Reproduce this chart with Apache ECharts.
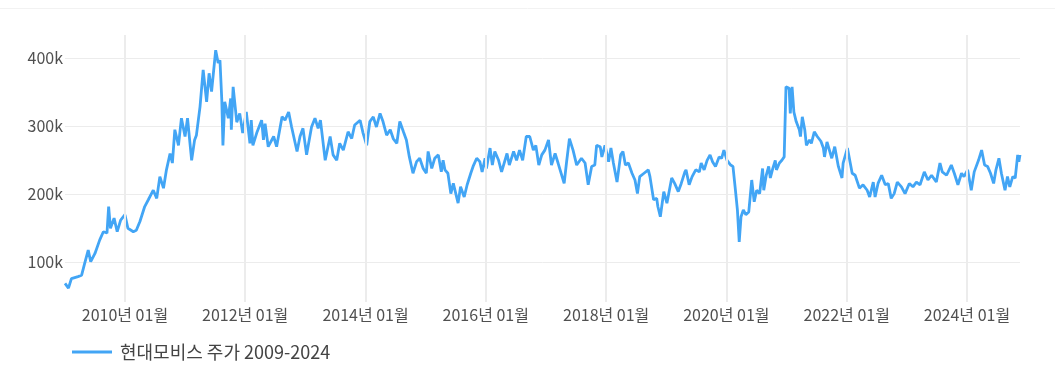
<!DOCTYPE html>
<html><head><meta charset="utf-8">
<script src="https://cdn.jsdelivr.net/npm/echarts@6/dist/echarts.min.js"></script>
<style>html,body{margin:0;padding:0;background:#fff;}#c{width:1055px;height:383px;}</style>
</head><body><div id="c"></div>
<script>
const seriesName = '현대모비스 주가 2009-2024';
const tickDates = ['2010-01-01','2012-01-01','2014-01-01','2016-01-01','2018-01-01','2020-01-01','2022-01-01','2024-01-01'];
const yTicks = [100000, 200000, 300000, 400000];
const dates = [
'2009-01-02','2009-01-23','2009-02-10','2009-03-22','2009-04-13','2009-05-01','2009-05-23','2009-06-07','2009-07-03','2009-08-01','2009-08-23','2009-09-14','2009-09-24','2009-10-05','2009-10-27','2009-11-15','2009-12-06',
'2010-01-01','2010-01-19','2010-02-21','2010-03-11','2010-04-02','2010-05-01','2010-05-23','2010-06-22','2010-07-13','2010-08-01','2010-08-23','2010-09-10','2010-10-02','2010-10-16','2010-10-31','2010-11-22','2010-12-10',
'2011-01-01','2011-01-16','2011-02-10','2011-02-28','2011-03-11','2011-04-02','2011-04-21','2011-05-12','2011-05-27','2011-06-11','2011-06-22','2011-07-06','2011-07-21','2011-08-01','2011-08-12','2011-08-19','2011-08-30','2011-09-21','2011-10-05','2011-10-09','2011-10-20','2011-11-11','2011-11-29','2011-12-17',
'2012-01-08','2012-01-30','2012-02-07','2012-02-17','2012-03-11','2012-04-10','2012-04-21','2012-05-01','2012-05-20','2012-06-22','2012-07-10','2012-08-12','2012-08-30','2012-09-21','2012-10-09','2012-11-11','2012-11-29','2012-12-17',
'2013-01-08','2013-02-07','2013-02-28','2013-03-19','2013-04-02','2013-05-01','2013-05-31','2013-06-18','2013-07-10','2013-07-28','2013-08-19','2013-09-17','2013-10-09','2013-10-27','2013-11-29','2013-12-17',
'2014-01-08','2014-01-27','2014-02-17','2014-03-08','2014-03-30','2014-04-17','2014-05-09','2014-05-31','2014-06-18','2014-07-10','2014-07-28','2014-08-19','2014-09-06','2014-09-24','2014-10-16','2014-11-07','2014-11-26','2014-12-17',
'2015-01-05','2015-01-16','2015-02-07','2015-02-25','2015-03-19','2015-04-06','2015-04-17','2015-04-28','2015-05-16','2015-06-03','2015-06-18','2015-07-03','2015-07-17','2015-08-01','2015-08-23','2015-09-10','2015-10-02','2015-10-16','2015-11-07','2015-11-26','2015-12-10','2015-12-28',
'2016-01-05','2016-01-27','2016-02-10','2016-02-25','2016-03-19','2016-04-06','2016-05-09','2016-05-23','2016-06-18','2016-07-06','2016-07-24','2016-08-12','2016-09-03','2016-09-24','2016-10-16','2016-10-31','2016-11-18','2016-12-06','2016-12-25',
'2017-01-16','2017-02-03','2017-02-25','2017-03-15','2017-04-21','2017-05-05','2017-05-23','2017-06-14','2017-07-06','2017-08-04','2017-08-26','2017-09-14','2017-10-05','2017-10-24','2017-11-04','2017-11-26','2017-12-06','2017-12-25',
'2018-01-16','2018-01-30','2018-02-14','2018-03-08','2018-03-30','2018-04-13','2018-04-28','2018-05-16','2018-06-07','2018-06-25','2018-07-10','2018-07-24','2018-08-19','2018-09-14','2018-09-24','2018-10-05','2018-10-16','2018-11-04','2018-11-11','2018-11-26','2018-12-17',
'2019-01-05','2019-02-03','2019-02-21','2019-03-15','2019-04-02','2019-04-24','2019-05-01','2019-05-20','2019-06-07','2019-06-29','2019-07-21','2019-08-01','2019-08-19','2019-09-06','2019-09-24','2019-10-09','2019-10-27','2019-11-18','2019-12-03','2019-12-17',
'2020-01-05','2020-01-27','2020-02-10','2020-02-25','2020-03-08','2020-03-19','2020-03-30','2020-04-13','2020-04-28','2020-05-16','2020-06-03','2020-06-18','2020-07-03','2020-07-21','2020-08-08','2020-08-15','2020-08-30','2020-09-14','2020-09-24','2020-10-09','2020-10-24','2020-10-31','2020-11-18','2020-12-03','2020-12-17','2020-12-28',
'2021-01-16','2021-01-23','2021-02-03','2021-02-14','2021-02-28','2021-03-19','2021-03-26','2021-04-06','2021-04-21','2021-05-01','2021-05-20','2021-05-31','2021-06-18','2021-07-06','2021-07-28','2021-08-12','2021-08-19','2021-09-03','2021-10-02','2021-10-20','2021-11-11','2021-12-03','2021-12-10',
'2022-01-05','2022-02-03','2022-02-21','2022-03-19','2022-04-10','2022-05-05','2022-05-20','2022-06-11','2022-06-22','2022-07-10','2022-08-01','2022-08-23','2022-09-10','2022-09-28','2022-10-16','2022-11-04','2022-11-29','2022-12-21',
'2023-01-16','2023-02-07','2023-02-28','2023-03-22','2023-04-17','2023-05-09','2023-05-31','2023-06-29','2023-07-21','2023-08-04','2023-08-30','2023-09-28','2023-10-16','2023-11-07','2023-11-29','2023-12-14',
'2024-01-05','2024-01-27','2024-02-14','2024-03-11','2024-03-30','2024-04-17','2024-05-05','2024-05-23','2024-06-11','2024-06-25','2024-07-13','2024-07-28','2024-08-19','2024-09-03','2024-09-17','2024-10-05','2024-10-20','2024-11-04','2024-11-11','2024-11-18'
];
const prices = [
69000,62000,76000,79000,81000,98000,118000,101000,113000,133000,145000,143000,182000,150000,165000,145000,162000,
170000,150000,145000,147000,160000,182000,192000,206000,194000,226000,209000,236000,260000,246000,295000,272000,312000,
285000,312000,250000,280000,287000,329000,383000,336000,378000,351000,378000,412000,393000,397000,339000,272000,336000,312000,341000,295000,358000,306000,319000,290000,
321000,275000,309000,272000,290000,309000,280000,304000,270000,285000,270000,314000,309000,321000,299000,263000,285000,297000,
258000,299000,312000,297000,309000,250000,285000,258000,250000,275000,265000,292000,282000,302000,309000,290000,
272000,307000,314000,299000,319000,307000,287000,295000,282000,275000,307000,292000,280000,255000,231000,248000,253000,238000,
231000,263000,238000,253000,258000,233000,250000,236000,231000,201000,216000,201000,187000,211000,196000,214000,231000,241000,253000,248000,233000,253000,
238000,268000,243000,263000,250000,233000,260000,243000,263000,250000,265000,250000,285000,285000,265000,272000,243000,258000,265000,
280000,243000,260000,246000,216000,246000,282000,265000,243000,253000,246000,214000,241000,243000,272000,270000,255000,272000,
248000,268000,246000,218000,258000,263000,243000,246000,231000,221000,201000,226000,231000,236000,226000,226000,192000,194000,182000,167000,204000,
187000,224000,216000,204000,216000,233000,236000,214000,226000,236000,233000,246000,236000,250000,258000,248000,241000,255000,253000,265000,
250000,243000,241000,206000,177000,130000,167000,177000,170000,174000,221000,189000,206000,201000,238000,206000,228000,241000,224000,238000,250000,236000,246000,250000,255000,358000,
356000,319000,358000,321000,307000,295000,285000,314000,295000,272000,280000,275000,292000,285000,278000,268000,255000,277000,253000,270000,241000,224000,246000,
268000,231000,228000,209000,214000,206000,196000,218000,196000,216000,228000,214000,216000,194000,201000,218000,211000,201000,
216000,211000,218000,214000,233000,221000,228000,218000,246000,233000,228000,243000,231000,214000,231000,226000,
236000,206000,233000,250000,265000,243000,241000,231000,216000,236000,253000,231000,206000,226000,211000,226000,224000,258000,248000,258000
];

const FONT = "'Noto Sans CJK KR', 'Noto Sans', sans-serif";
const toTime = s => { const p = s.split('-').map(Number); return Date.UTC(p[0], p[1] - 1, p[2]); };
const pad = n => (n < 10 ? '0' : '') + n;
const data = dates.map((d, i) => [toTime(d), prices[i]]);
const tickTimes = tickDates.map(toTime);

const chart = echarts.init(document.getElementById('c'), null, {renderer: 'canvas'});
chart.setOption({
  animation: false,
  backgroundColor: '#ffffff',
  textStyle: {fontFamily: FONT},
  grid: {left: 65, right: 35, top: 35, bottom: 81, containLabel: false},
  graphic: [{type: 'line', shape: {x1: 0, y1: 8.5, x2: 1055, y2: 8.5}, style: {stroke: '#f2f2f2', lineWidth: 1}, silent: true}],
  legend: {
    left: 67, top: 338,
    icon: 'rect', itemWidth: 40, itemHeight: 3,
    textStyle: {fontSize: 18, color: '#444', fontFamily: FONT, padding: [0, 0, 0, 3]},
    data: [seriesName]
  },
  xAxis: {
    type: 'value',
    min: 'dataMin', max: 'dataMax',
    axisLine: {show: false},
    axisTick: {show: false},
    splitLine: {show: false},
    axisLabel: {
      customValues: tickTimes,
      formatter: v => { const dt = new Date(v); return dt.getUTCFullYear() + '년 ' + pad(dt.getUTCMonth() + 1) + '월'; },
      color: '#505050', fontSize: 16, fontFamily: FONT, margin: 5
    }
  },
  yAxis: {
    type: 'value',
    min: 41600, max: 434300,
    axisLine: {show: false},
    axisTick: {show: false},
    axisLabel: {
      customValues: yTicks,
      formatter: v => (v / 1000) + 'k',
      color: '#505050', fontSize: 16, fontFamily: FONT, margin: 2
    },
    splitLine: {show: true, showMinLine: false, showMaxLine: false, lineStyle: {color: '#ececec', width: 1}}
  },
  series: [
    {
      name: 'grid-x', type: 'line', data: [], z: 1, silent: true,
      markLine: {
        silent: true, symbol: 'none', label: {show: false},
        lineStyle: {color: '#ececec', width: 2, type: 'solid'},
        data: tickTimes.map(t => ({xAxis: t}))
      }
    },
    {
      name: seriesName, type: 'line', data: data, z: 3,
      showSymbol: false, symbol: 'none',
      lineStyle: {color: '#42a5f5', width: 2.8},
      itemStyle: {color: '#42a5f5'}
    }
  ]
});
</script></body></html>
